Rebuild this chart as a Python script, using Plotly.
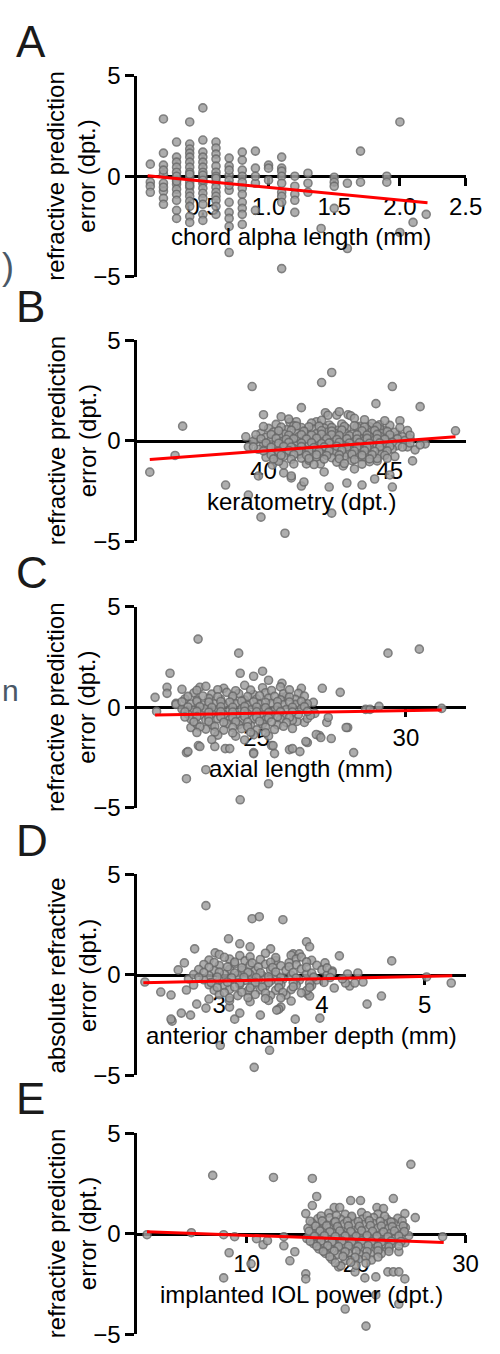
import plotly.graph_objects as go

W, H = 500, 1354

# ---- A: chord alpha length (columns at 0.1 mm steps)
alpha_cols = [0.1, 0.2, 0.3, 0.4, 0.5, 0.6, 0.7, 0.8, 0.9, 1.0, 1.1,
              1.2, 1.3, 1.4, 1.5, 1.6, 1.7, 1.9, 2.0, 2.1, 2.2]
alpha_col_err = [
    [0.6, -0.3, -0.5, -0.8],
    [2.85, 1.15, 0.55, 0.1, -0.35, -0.75, -1.1, -1.4, 0.3, -0.55],
    [1.7, 0.95, 0.7, 0.45, 0.2, -0.15, -0.4, -0.65, -0.9, -1.2, -1.7, -2.1, 0.0, -0.25],
    [2.7, 1.6, 1.35, 1.15, 0.95, 0.7, 0.45, 0.2, -0.05, -0.3, -0.55, -0.8, -1.0, -1.25,
     -1.5, -2.0, -2.3, 0.1, -0.45],
    [3.4, 1.8, 1.2, 0.95, 0.7, 0.45, 0.2, -0.1, -0.35, -0.6, -0.85, -1.1, -1.4, -1.9,
     0.05, -0.2, -2.2],
    [1.7, 1.4, 1.1, 0.85, 0.5, 0.2, -0.3, -0.55, -0.8, -1.0, -1.2, -1.5, -1.9, 0.0, -0.1],
    [0.9, 0.5, 0.05, -0.2, -0.7, -1.3, -1.8, -2.1, -2.5, -3.8, 0.3, -0.45],
    [1.2, 0.8, 0.3, 0.0, -0.3, -0.6, -0.9, -1.3, -1.6, -1.9, -2.4],
    [1.25, 0.4, -0.35, -1.7, 0.0],
    [0.55, 0.4, -0.2],
    [0.95, 0.4, 0.25, 0.0, -0.35, -0.8, -1.0, -1.3, -4.6],
    [0.0, -0.5, -0.9, -1.2, -1.8],
    [0.15, -0.35, -0.8],
    [-2.6],
    [-0.05, -0.3, -0.5, -1.6],
    [-0.35, -3.6],
    [1.25, -0.3],
    [0.0, -0.3],
    [2.7, -2.8],
    [-2.3],
    [-1.9],
]
alpha_x = [c for c, ys in zip(alpha_cols, alpha_col_err) for _ in ys]
alpha_err = [y for ys in alpha_col_err for y in ys]
alpha_fit_x = [0.08, 2.21]
alpha_fit_y = [0.02, -1.32]

# ---- B: keratometry
kera_x = [
    35.5, 36.5, 36.8, 38.5, 39.4, 39.55, 42.7, 42.3, 45.1, 44.45,
    46.2, 47.6, 46.4, 45.9, 45.1, 45.0, 41.5, 40.0, 40.7, 39.9,
    40.85, 42.7, 42.6, 43.3, 43.9, 44.4, 41.5, 41.1, 40.8, 39.8,
    39.3, 45.4, 44.8, 45.3, 45.7, 42.4, 43.15, 43.6, 44.5, 41.05,
    41.3, 42.1, 42.45, 42.55, 42.9, 43.0, 43.35, 43.45, 44.0, 44.2,
    44.6, 40.8, 41.1, 41.7, 40.35, 40.55, 41.6, 42.25, 46.0, 46.2,
    45.8, 39.4, 39.7,
    40.5, 41.2, 41.9, 42.6, 43.1, 43.8, 44.3, 45.0,
    40.2, 40.9, 41.5, 42.0, 42.4, 42.9, 43.3, 43.7, 44.1, 44.6,
    39.9, 40.4, 40.8, 41.3, 41.7, 42.1, 42.5, 42.8, 43.2, 43.5, 43.9, 44.3, 44.7, 45.2,
    40.1, 40.6, 41.0, 41.4, 41.8, 42.2, 42.6, 43.0, 43.4, 43.8, 44.2, 44.6, 45.0, 45.5,
    39.6, 40.3, 40.7, 41.1, 41.6, 42.0, 42.4, 42.8, 43.1, 43.6, 44.0, 44.4, 44.9, 45.6,
    40.0, 40.5, 40.9, 41.3, 41.8, 42.2, 42.7, 43.2, 43.5, 43.9, 44.3, 44.8, 45.3,
    39.8, 40.2, 40.7, 41.2, 41.6, 42.0, 42.5, 42.9, 43.4, 43.8, 44.2, 44.7, 45.1,
    40.4, 40.9, 41.4, 41.9, 42.3, 42.8, 43.3, 43.7, 44.1, 44.6,
    40.1, 40.8, 41.5, 42.1, 42.7, 43.2, 43.9, 44.5, 45.2,
    40.6, 41.8, 42.9, 43.5, 44.2,
    41.0, 42.3, 43.6, 44.8,
    40.0, 40.7, 41.3, 41.8, 42.2, 42.7, 43.2, 43.6, 44.0, 44.5, 45.4,
    40.6, 41.1, 41.6, 42.3, 42.7, 43.1, 43.9, 44.4, 44.9, 45.7,
    39.7, 40.3, 41.0, 41.5, 41.9, 42.3, 42.7, 43.0, 43.7, 44.1, 44.5, 45.0, 45.8,
    39.9, 40.5, 40.9, 41.2, 41.7, 42.1, 42.5, 42.9, 43.3, 43.7, 44.1, 44.5, 44.8, 45.3,
    40.1, 40.6, 41.0, 41.5, 41.9, 42.3, 42.6, 43.0, 43.4, 43.8, 44.2, 44.6, 45.1, 45.8,
    39.6, 40.3, 40.8, 41.1, 41.5, 42.0, 42.4, 42.9, 43.3, 43.7, 44.1, 44.6, 45.0, 45.5,
    40.0, 40.6, 41.0, 41.4, 41.8, 42.2, 42.6, 43.1, 43.6, 44.0, 44.4, 44.9,
    40.3, 40.7, 41.2, 41.7, 42.1, 42.5, 43.0, 43.5, 43.9, 44.3, 44.8,
    40.4, 41.1, 41.8, 42.4, 43.0, 43.6, 44.2, 44.9,
    41.2, 42.0, 43.2, 43.9,
]
kera_err = [
    -1.56, -0.73, 0.73, -2.2, -2.7, 2.7, 3.4, 2.9, 2.7, 1.85,
    1.7, 0.5, -0.15, -1.0, -2.3, -1.7, 1.65, 1.3, 1.2, -3.8,
    -4.6, -3.6, -2.3, -2.1, -2.2, -1.9, -2.25, -1.85, -1.6, -1.75,
    0.2, 1.0, 0.5, 0.25, -0.3, -1.55, -1.25, -1.4, -1.0, 0.93,
    0.95, 0.95, 1.4, 1.27, 1.28, 1.45, 1.3, 1.25, 1.05, 0.7,
    0.8, -1.2, -1.75, -1.15, -1.2, -0.95, -2.05, -1.15, -0.45, -0.2,
    0.1, -0.3, 0.05,
    0.82, 0.75, 0.88, 0.79, 0.84, 0.72, 0.86, 0.77,
    0.62, 0.55, 0.66, 0.58, 0.64, 0.52, 0.61, 0.68, 0.57, 0.6,
    0.38, 0.44, 0.35, 0.41, 0.47, 0.36, 0.42, 0.39, 0.45, 0.33, 0.4, 0.46, 0.37, 0.43,
    0.18, 0.24, 0.15, 0.21, 0.26, 0.17, 0.22, 0.19, 0.25, 0.14, 0.2, 0.23, 0.16, 0.21,
    -0.02, 0.04, -0.05, 0.01, 0.06, -0.03, 0.02, -0.01, 0.05, -0.06, 0.0, 0.03, -0.04, 0.02,
    -0.22, -0.16, -0.25, -0.19, -0.14, -0.23, -0.18, -0.21, -0.15, -0.26, -0.2, -0.17, -0.24,
    -0.42, -0.36, -0.45, -0.39, -0.44, -0.35, -0.41, -0.47, -0.38, -0.43, -0.37, -0.46, -0.4,
    -0.62, -0.57, -0.66, -0.59, -0.64, -0.55, -0.61, -0.67, -0.58, -0.63,
    -0.82, -0.77, -0.86, -0.79, -0.84, -0.76, -0.81, -0.88, -0.78,
    -1.02, -0.97, -1.06, -0.99, -1.04,
    1.08, 1.02, 1.12, 1.0,
    0.71, 0.68, 0.74, 0.7, 0.73, 0.67, 0.72, 0.75, 0.69, 0.71, 0.66,
    0.5, 0.53, 0.48, 0.51, 0.49, 0.54, 0.5, 0.52, 0.47, 0.51,
    0.3, 0.32, 0.28, 0.31, 0.29, 0.33, 0.3, 0.27, 0.31, 0.29, 0.32, 0.3, 0.28,
    0.1, 0.12, 0.08, 0.11, 0.09, 0.13, 0.1, 0.07, 0.11, 0.09, 0.12, 0.1, 0.08, 0.11,
    -0.1, -0.12, -0.08, -0.11, -0.09, -0.13, -0.1, -0.07, -0.11, -0.09, -0.12, -0.1, -0.08, -0.11,
    -0.3, -0.32, -0.28, -0.31, -0.29, -0.33, -0.3, -0.27, -0.31, -0.29, -0.32, -0.3, -0.28, -0.31,
    -0.5, -0.52, -0.48, -0.51, -0.49, -0.53, -0.5, -0.47, -0.51, -0.49, -0.52, -0.5,
    -0.7, -0.72, -0.68, -0.71, -0.69, -0.73, -0.7, -0.67, -0.71, -0.69, -0.72,
    -0.9, -0.92, -0.88, -0.91, -0.89, -0.93, -0.9, -0.87,
    -1.15, -1.18, -1.13, -1.16,
]
kera_fit_x = [35.5, 47.6]
kera_fit_y = [-0.93, 0.2]

# ---- C: axial length
axl_x = [
    23.04, 22.1, 21.6, 22.0, 22.0, 22.3, 22.5, 23.1, 21.65, 22.65,
    22.65, 23.3, 23.05, 22.8, 24.4, 24.45, 24.45, 29.4, 30.45, 25.2,
    24.9, 25.4, 25.85, 26.5, 27.2, 27.8, 28.05, 28.25, 27.1, 26.7,
    26.45, 26.1, 25.6, 25.5, 24.9, 25.4, 27.5, 27.35, 29.1, 31.2,
    28.65, 28.8, 26.9, 26.95, 26.2, 26.6, 22.3, 25.85, 26.0, 26.6,
    27.4, 28.0, 22.7, 23.1, 23.6, 23.95, 24.1, 24.9, 25.55, 26.2,
    26.65, 27.0, 27.15, 26.35, 26.7, 26.8,
    23.3, 23.9, 24.6, 25.2, 25.8,
    22.9, 23.5, 24.0, 24.4, 24.9, 25.3, 25.9, 26.4,
    22.6, 23.0, 23.4, 23.8, 24.2, 24.6, 25.0, 25.4, 25.8, 26.3,
    22.8, 23.2, 23.6, 23.9, 24.3, 24.7, 25.1, 25.5, 25.9, 26.3, 26.7,
    22.5, 22.9, 23.3, 23.7, 24.1, 24.5, 24.8, 25.2, 25.6, 26.0, 26.5,
    22.7, 23.1, 23.5, 23.9, 24.3, 24.7, 25.1, 25.5, 25.9, 26.4,
    22.8, 23.3, 23.7, 24.1, 24.5, 24.9, 25.3, 25.8, 26.2,
    23.0, 23.5, 24.0, 24.4, 24.8, 25.2, 25.7,
    23.3, 23.9, 24.5, 25.0, 25.6,
    23.7, 24.3, 24.9, 25.4,
    23.0, 23.7, 24.3, 24.8, 25.5, 26.1,
    22.7, 23.2, 23.7, 24.2, 24.7, 25.1, 25.6, 26.1, 26.6,
    22.5, 23.0, 23.4, 23.8, 24.1, 24.5, 24.9, 25.3, 25.7, 26.1, 26.5,
    22.7, 23.1, 23.5, 23.8, 24.2, 24.6, 25.0, 25.3, 25.7, 26.2, 26.6,
    22.6, 23.0, 23.4, 23.8, 24.2, 24.6, 25.0, 25.4, 25.8, 26.2, 26.7,
    22.6, 23.0, 23.4, 23.8, 24.2, 24.6, 25.0, 25.4, 25.7, 26.1,
    22.9, 23.4, 23.9, 24.3, 24.7, 25.1, 25.5, 26.0,
    23.1, 23.6, 24.2, 24.7, 25.3, 25.9,
    23.0, 23.6, 24.2, 24.8, 25.3,
    23.5, 24.6,
]
axl_err = [
    3.4, 1.7, 0.5, 1.0, 0.7, 0.2, 0.9, 1.0, -0.2, -2.25,
    -3.55, -3.1, -1.9, -1.0, 2.7, 1.7, -4.6, 2.7, 2.9, 1.8,
    1.55, 1.35, 1.2, 0.95, 0.95, 0.75, -1.0, -2.25, -1.4, -1.75,
    -2.2, -2.1, -2.3, -1.9, -2.25, -3.8, -1.55, -0.75, 0.05, -0.05,
    -0.1, -0.1, 0.25, -0.3, -1.05, -0.75, 0.15, 0.5, 0.55, 0.15,
    -0.5, -1.0, -2.2, -1.95, -1.95, -2.05, -2.05, -2.3, -1.9, -2.05,
    -1.7, -1.35, -1.5, -0.7, -0.55, -0.4,
    1.05, 0.95, 1.1, 0.98, 1.02,
    0.72, 0.66, 0.75, 0.69, 0.64, 0.73, 0.68, 0.7,
    0.42, 0.37, 0.45, 0.39, 0.43, 0.36, 0.41, 0.46, 0.38, 0.4,
    0.17, 0.12, 0.19, 0.14, 0.18, 0.11, 0.16, 0.2, 0.13, 0.15, 0.18,
    -0.08, -0.13, -0.06, -0.11, -0.14, -0.07, -0.12, -0.09, -0.15, -0.1, -0.06,
    -0.33, -0.38, -0.31, -0.36, -0.4, -0.32, -0.37, -0.34, -0.39, -0.35,
    -0.58, -0.63, -0.56, -0.61, -0.65, -0.57, -0.62, -0.59, -0.64,
    -0.83, -0.88, -0.81, -0.86, -0.9, -0.82, -0.87,
    -1.08, -1.13, -1.06, -1.12, -1.1,
    -1.38, -1.43, -1.36, -1.42,
    0.85, 0.88, 0.83, 0.86, 0.84, 0.87,
    0.55, 0.57, 0.53, 0.56, 0.54, 0.58, 0.55, 0.52, 0.56,
    0.28, 0.3, 0.26, 0.29, 0.27, 0.31, 0.28, 0.25, 0.29, 0.27, 0.3,
    0.02, 0.04, 0.0, 0.03, 0.01, 0.05, 0.02, -0.01, 0.03, 0.01, 0.04,
    -0.22, -0.2, -0.24, -0.21, -0.23, -0.19, -0.22, -0.25, -0.21, -0.23, -0.2,
    -0.48, -0.46, -0.5, -0.47, -0.49, -0.45, -0.48, -0.51, -0.47, -0.49,
    -0.72, -0.7, -0.74, -0.71, -0.73, -0.69, -0.72, -0.75,
    -0.97, -0.95, -0.99, -0.96, -0.98, -0.94,
    -1.25, -1.23, -1.27, -1.24, -1.26,
    -1.6, -1.62,
]
axl_fit_x = [21.6, 31.2]
axl_fit_y = [-0.38, -0.13]

# ---- D: anterior chamber depth
acd_x = [
    2.87, 2.275, 2.43, 2.53, 2.76, 2.66, 2.54, 2.63, 2.72, 2.78,
    2.87, 3.01, 3.09, 2.96, 2.68, 2.75, 3.32, 3.39, 3.62, 3.85,
    3.88, 4.17, 4.68, 5.26, 4.58, 4.44, 4.4, 4.27, 4.12, 3.98,
    3.74, 3.49, 3.34, 3.6, 3.58, 3.72, 3.78, 4.03, 5.02, 4.25,
    3.86, 3.88, 3.15, 3.56, 4.23, 4.32, 4.1, 4.2, 4.35, 2.6,
    2.7, 2.53, 3.1, 3.2, 3.4, 2.9, 3.7,
    3.3, 3.5, 3.2,
    3.0, 3.2, 3.45, 3.7,
    2.9, 3.1, 3.25, 3.4, 3.55, 3.75, 3.9,
    2.85, 3.0, 3.15, 3.3, 3.45, 3.6, 3.75, 3.95,
    2.8, 2.95, 3.1, 3.22, 3.35, 3.5, 3.65, 3.8, 4.0,
    2.75, 2.9, 3.05, 3.18, 3.3, 3.42, 3.55, 3.7, 3.85, 4.05,
    2.85, 3.0, 3.12, 3.25, 3.38, 3.5, 3.62, 3.78, 3.95,
    2.9, 3.05, 3.2, 3.32, 3.45, 3.6, 3.75, 3.9,
    2.95, 3.1, 3.28, 3.4, 3.55, 3.7, 3.85,
    3.0, 3.18, 3.35, 3.5, 3.65,
    3.1, 3.3, 3.48,
    3.05, 3.3, 3.55, 3.8,
    2.95, 3.15, 3.32, 3.5, 3.68, 3.85,
    2.9, 3.08, 3.22, 3.38, 3.52, 3.68, 3.85, 4.05,
    2.85, 3.0, 3.15, 3.28, 3.4, 3.55, 3.72, 3.9, 4.1,
    2.8, 2.98, 3.12, 3.24, 3.36, 3.48, 3.6, 3.75, 3.92, 4.08,
    2.92, 3.08, 3.2, 3.35, 3.48, 3.58, 3.72, 3.88, 4.02,
    2.98, 3.15, 3.3, 3.42, 3.58, 3.72, 3.88,
    3.05, 3.22, 3.45, 3.62, 3.8,
    3.1, 3.28, 3.45, 3.6,
]
acd_err = [
    3.45, -0.35, -0.85, -1.0, 1.3, 0.6, -2.3, -1.9, -2.0, -1.45,
    -1.65, -3.5, 1.8, 1.1, -0.75, -0.5, 2.8, 2.9, 2.75, 1.65,
    1.4, 0.95, 0.7, -0.4, -1.05, -1.45, -0.35, -0.55, -0.65, -2.15,
    -2.2, -3.75, -4.6, -1.6, -1.7, 1.05, 1.05, 0.6, -0.1, 0.05,
    -0.95, -1.05, -2.2, -1.75, -0.4, -0.4, 0.2, -0.2, 0.1, 0.25,
    -0.2, -2.2, -1.6, -1.9, -2.0, -1.2, -1.3,
    1.4, 1.3, 1.55,
    1.02, 0.96, 1.08, 0.98,
    0.74, 0.79, 0.7, 0.77, 0.72, 0.8, 0.73,
    0.52, 0.47, 0.55, 0.49, 0.53, 0.46, 0.51, 0.48,
    0.27, 0.22, 0.28, 0.24, 0.21, 0.26, 0.23, 0.29, 0.25,
    0.02, -0.03, 0.04, -0.01, 0.03, -0.04, 0.01, -0.02, 0.05, 0.0,
    -0.24, -0.28, -0.21, -0.27, -0.23, -0.29, -0.22, -0.26, -0.25,
    -0.49, -0.54, -0.47, -0.52, -0.55, -0.48, -0.51, -0.53,
    -0.76, -0.72, -0.79, -0.74, -0.77, -0.73, -0.78,
    -0.98, -1.03, -0.97, -1.02, -1.0,
    -1.28, -1.33, -1.27,
    0.88, 0.9, 0.86, 0.89,
    0.62, 0.64, 0.6, 0.63, 0.61, 0.65,
    0.38, 0.4, 0.36, 0.39, 0.37, 0.41, 0.38, 0.35,
    0.12, 0.14, 0.1, 0.13, 0.11, 0.15, 0.12, 0.09, 0.13,
    -0.12, -0.1, -0.14, -0.11, -0.13, -0.09, -0.12, -0.15, -0.11, -0.13,
    -0.38, -0.36, -0.4, -0.37, -0.39, -0.35, -0.38, -0.41, -0.37,
    -0.62, -0.6, -0.64, -0.61, -0.63, -0.59, -0.62,
    -0.88, -0.86, -0.9, -0.87, -0.89,
    -1.15, -1.13, -1.17, -1.14,
]
acd_fit_x = [2.26, 5.27]
acd_fit_y = [-0.39, -0.04]

# ---- E: implanted IOL power
iol_x = [
    0.9, 4.95, 6.9, 7.9, 8.9, 8.4, 7.9, 12.45, 16.0, 25.0,
    16.4, 16.0, 15.4, 23.4, 25.4, 24.45, 27.9, 10.9, 11.5, 11.9,
    13.4, 13.4, 13.95, 14.4, 10.4, 15.4, 15.4, 19.0, 20.9, 23.9,
    21.8, 24.45, 22.9, 23.4, 23.9, 18.4, 19.9, 20.8, 21.8, 23.9,
    24.45, 19.5, 20.4, 18.0, 18.5, 21.9, 22.5, 24.5, 24.8,
    17.5, 19.0, 20.5, 22.0,
    16.5, 17.6, 18.6, 19.6, 20.6, 21.6, 22.8, 23.8,
    16.0, 17.0, 18.0, 18.9, 19.8, 20.7, 21.6, 22.5, 23.4,
    15.6, 16.6, 17.5, 18.4, 19.3, 20.2, 21.1, 22.0, 22.9, 23.9,
    15.9, 16.9, 17.8, 18.7, 19.6, 20.5, 21.4, 22.3, 23.2, 24.2,
    15.5, 16.4, 17.3, 18.2, 19.1, 20.0, 20.9, 21.8, 22.7, 23.6,
    16.1, 17.0, 17.9, 18.8, 19.7, 20.6, 21.5, 22.4, 23.3,
    16.6, 17.6, 18.5, 19.4, 20.3, 21.2, 22.1, 23.0,
    17.2, 18.3, 19.3, 20.3, 21.3, 22.3,
    17.8, 19.0, 20.2, 21.4,
    18.6, 20.0,
    16.8, 18.2, 19.6, 21.0, 22.6,
    15.8, 16.9, 18.1, 19.2, 20.2, 21.2, 22.2, 23.2, 24.2,
    16.3, 17.3, 18.3, 19.3, 20.3, 21.3, 22.3, 23.3, 24.3,
    15.7, 16.7, 17.6, 18.5, 19.5, 20.5, 21.5, 22.5, 23.5, 24.4,
    16.2, 17.1, 18.1, 19.0, 20.0, 21.0, 21.9, 22.9, 23.9,
    15.8, 16.8, 17.8, 18.7, 19.6, 20.5, 21.4, 22.3, 23.2, 24.1,
    16.4, 17.4, 18.4, 19.3, 20.2, 21.1, 22.0, 23.0, 23.9,
    17.0, 18.0, 19.0, 20.0, 21.0, 22.0, 23.0,
    17.6, 18.8, 19.9, 20.9, 22.0,
    18.1, 19.5, 20.9,
]
iol_err = [
    -0.05, 0.05, 2.9, -0.05, -0.15, -0.95, -2.2, 2.8, 2.75, 3.45,
    1.85, 1.4, 1.0, 1.75, 0.8, 1.0, -0.15, -0.25, -0.55, -0.35,
    -0.15, -0.6, -1.35, -0.9, -1.5, -2.0, -2.25, -3.75, -4.6, -3.5,
    -3.05, -2.25, -1.9, -1.9, -1.9, -1.65, -1.9, -2.2, -2.15, -0.9,
    -0.45, 1.65, 1.65, 1.3, 1.3, 1.3, 1.25, 0.3, -0.1,
    1.02, 0.96, 1.05, 0.98,
    0.74, 0.79, 0.71, 0.77, 0.73, 0.8, 0.72, 0.76,
    0.52, 0.47, 0.55, 0.49, 0.53, 0.46, 0.51, 0.48, 0.54,
    0.27, 0.22, 0.28, 0.24, 0.21, 0.26, 0.23, 0.29, 0.25, 0.22,
    0.02, -0.03, 0.04, -0.01, 0.03, -0.04, 0.01, -0.02, 0.05, 0.0,
    -0.24, -0.28, -0.21, -0.27, -0.23, -0.29, -0.22, -0.26, -0.25, -0.23,
    -0.49, -0.54, -0.47, -0.52, -0.55, -0.48, -0.51, -0.53, -0.5,
    -0.76, -0.72, -0.79, -0.74, -0.77, -0.73, -0.78, -0.75,
    -0.98, -1.03, -0.97, -1.02, -1.0, -0.99,
    -1.28, -1.33, -1.27, -1.31,
    -1.6, -1.58,
    0.88, 0.9, 0.86, 0.89, 0.87,
    0.62, 0.64, 0.6, 0.63, 0.61, 0.65, 0.62, 0.59, 0.63,
    0.38, 0.4, 0.36, 0.39, 0.37, 0.41, 0.38, 0.35, 0.39,
    0.12, 0.14, 0.1, 0.13, 0.11, 0.15, 0.12, 0.09, 0.13, 0.11,
    -0.12, -0.1, -0.14, -0.11, -0.13, -0.09, -0.12, -0.15, -0.11,
    -0.38, -0.36, -0.4, -0.37, -0.39, -0.35, -0.38, -0.41, -0.37, -0.39,
    -0.62, -0.6, -0.64, -0.61, -0.63, -0.59, -0.62, -0.65, -0.61,
    -0.88, -0.86, -0.9, -0.87, -0.89, -0.85, -0.88,
    -1.15, -1.13, -1.17, -1.14, -1.16,
    -1.45, -1.43, -1.47,
]
iol_fit_x = [0.9, 28.0]
iol_fit_y = [0.1, -0.44]

panels = [
    dict(letter="A", x=alpha_x, y=alpha_err, fx=alpha_fit_x, fy=alpha_fit_y,
         xrange=[0, 2.5], tickvals=[0.5, 1.0, 1.5, 2.0, 2.5],
         ticktext=["0.5", "1.0", "1.5", "2.0", "2.5"],
         xtitle="chord alpha length (mm)", ytitle="refractive prediction<br>error (dpt.)"),
    dict(letter="B", x=kera_x, y=kera_err, fx=kera_fit_x, fy=kera_fit_y,
         xrange=[35, 48], tickvals=[40, 45], ticktext=["40", "45"],
         xtitle="keratometry (dpt.)", ytitle="refractive prediction<br>error (dpt.)"),
    dict(letter="C", x=axl_x, y=axl_err, fx=axl_fit_x, fy=axl_fit_y,
         xrange=[21, 32], tickvals=[25, 30], ticktext=["25", "30"],
         xtitle="axial length (mm)", ytitle="refractive prediction<br>error (dpt.)"),
    dict(letter="D", x=acd_x, y=acd_err, fx=acd_fit_x, fy=acd_fit_y,
         xrange=[2.2, 5.4], tickvals=[3, 4, 5], ticktext=["3", "4", "5"],
         xtitle="anterior chamber depth (mm)", ytitle="absolute refractive<br>error (dpt.)"),
    dict(letter="E", x=iol_x, y=iol_err, fx=iol_fit_x, fy=iol_fit_y,
         xrange=[0, 30], tickvals=[10, 20, 30], ticktext=["10", "20", "30"],
         xtitle="implanted IOL power (dpt.)", ytitle="refractive prediction<br>error (dpt.)"),
]

FONT = "Liberation Sans, Arial, sans-serif"
tops = [63, 333, 605, 878, 1142]   # pixel top of each y axis
plot_h = 205
x_left, x_right = 142, 482

fig = go.Figure()
annotations = []

for i, p in enumerate(panels):
    n = "" if i == 0 else str(i + 1)
    xa, ya = "x" + n, "y" + n

    fig.add_trace(go.Scatter(
        x=p["x"], y=p["y"], mode="markers", xaxis=xa, yaxis=ya,
        marker=dict(size=8, color="#a0a0a0", opacity=0.85,
                    line=dict(color="#6a6a6a", width=1.6)),
        showlegend=False, cliponaxis=False))
    fig.add_trace(go.Scatter(
        x=p["fx"], y=p["fy"], mode="lines", xaxis=xa, yaxis=ya,
        line=dict(color="#ff0000", width=3), showlegend=False))

    y0 = 1 - (tops[i] + plot_h) / H
    y1 = 1 - tops[i] / H
    zero_px = tops[i] + plot_h / 2

    fig.layout["xaxis" + n] = dict(
        domain=[x_left / W, x_right / W], range=p["xrange"],
        anchor="free", position=(y0 + y1) / 2,
        tickvals=p["tickvals"], ticktext=p["ticktext"],
        ticks="outside", ticklen=8, tickwidth=2.5, tickcolor="black",
        showline=True, linewidth=2.5, linecolor="black",
        showgrid=False, zeroline=False, layer="below traces",
        tickfont=dict(size=24, color="black", family=FONT))
    fig.layout["yaxis" + n] = dict(
        domain=[y0, y1], anchor=xa, range=[-5, 5], tickvals=[-5, 0, 5],
        ticks="outside", ticklen=9, tickwidth=2.5, tickcolor="black",
        showline=True, linewidth=2.5, linecolor="black",
        showgrid=False, zeroline=False,
        tickfont=dict(size=24, color="black", family=FONT))

    # panel letter
    annotations.append(dict(
        text=p["letter"], x=14 / W, y=1 - (tops[i] - 35) / H,
        xref="paper", yref="paper", xanchor="left", yanchor="middle",
        showarrow=False, font=dict(size=44, color="#1a1a1a", family=FONT)))
    # x axis title
    annotations.append(dict(
        text=p["xtitle"], x=(x_left + x_right) / 2 / W, y=1 - (zero_px + 62) / H,
        xref="paper", yref="paper", xanchor="center", yanchor="middle",
        showarrow=False, font=dict(size=24, color="black", family=FONT)))
    # y axis title
    annotations.append(dict(
        text=p["ytitle"], x=74 / W, y=1 - zero_px / H, textangle=-90,
        xref="paper", yref="paper", xanchor="center", yanchor="middle",
        showarrow=False, font=dict(size=24, color="black", family=FONT)))

# fragments of neighbouring text at the left edge
annotations.append(dict(text=")", x=0, y=1 - 258 / H, xref="paper", yref="paper",
                        xanchor="left", yanchor="middle", showarrow=False,
                        font=dict(size=36, color="#4a5866", family=FONT)))
annotations.append(dict(text="n", x=0, y=1 - 690 / H, xref="paper", yref="paper",
                        xanchor="left", yanchor="middle", showarrow=False,
                        font=dict(size=30, color="#4a5866", family=FONT)))

fig.update_layout(
    width=W, height=H,
    margin=dict(l=0, r=0, t=0, b=0),
    paper_bgcolor="white", plot_bgcolor="white",
    font=dict(family=FONT, color="black"),
    annotations=annotations,
    showlegend=False,
)

# page body margin off, so the figure sits at the window's top-left corner
fig.write_html("out.html", config={"displayModeBar": False},
               post_script="document.body.style.margin='0';document.body.style.overflow='hidden';")
